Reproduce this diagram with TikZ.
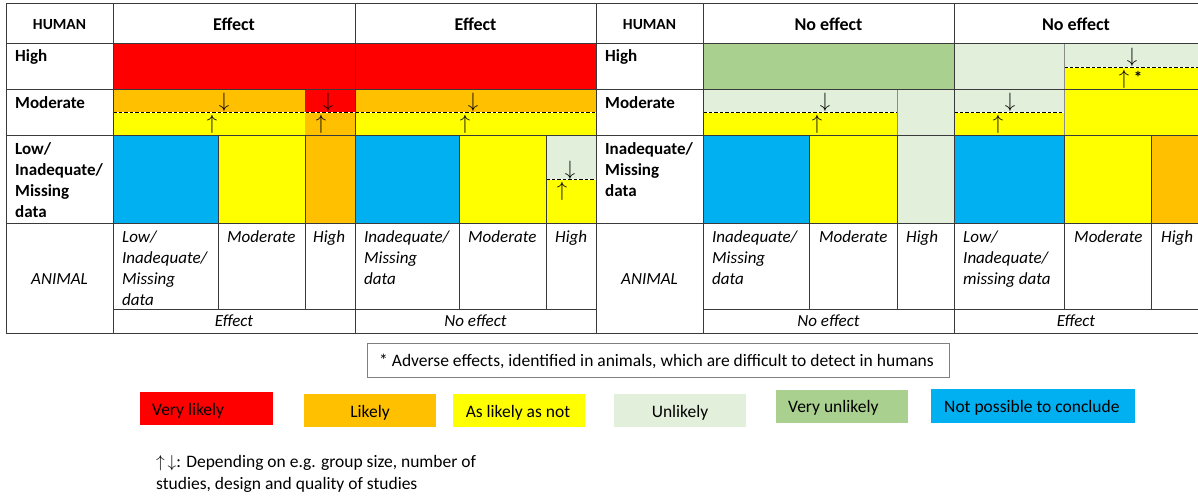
\documentclass[tikz,border=0pt]{standalone}
\usepackage{fontspec}
\setmainfont{Carlito}
\definecolor{cred}{HTML}{FF0000}
\definecolor{corange}{HTML}{FFC000}
\definecolor{cyellow}{HTML}{FFFF00}
\definecolor{clgreen}{HTML}{E2EFDA}
\definecolor{cgreen}{HTML}{A9D08E}
\definecolor{cblue}{HTML}{00B0F0}
\definecolor{gridc}{HTML}{3A3A3A}
\definecolor{notec}{HTML}{7F7F7F}
\tikzset{
  gridline/.style={draw=gridc, line width=1pt},
  softline/.style={draw=black!45, line width=0.8pt},
  dashline/.style={draw=black, line width=0.9pt, dash pattern=on 3.5pt off 2pt},
  hdr/.style={font=\fontsize{18}{21}\selectfont\bfseries, anchor=base, inner sep=0},
  hum/.style={font=\fontsize{15.5}{18}\selectfont\bfseries, anchor=base, inner sep=0},
  rlab/.style={font=\fontsize{17}{21}\selectfont\bfseries, anchor=base west, inner sep=0, align=left},
  alab/.style={font=\fontsize{17}{21}\selectfont\itshape, anchor=base west, inner sep=0, align=left},
  aeff/.style={font=\fontsize{17}{21}\selectfont\itshape, anchor=base, inner sep=0},
  arr/.style={font=\fontsize{20}{20}\selectfont, inner sep=0},
  legtxt/.style={font=\fontsize{17.5}{22}\selectfont, inner sep=0, anchor=base west},
}
\begin{document}
\begin{tikzpicture}[x=1pt,y=-1pt]
\useasboundingbox (0,0) rectangle (1198,495);
\fill[white] (0,0) rectangle (1198,495);
% ---------- block 1 ----------
\fill[cred] (113,44) rectangle (355,89);
\fill[corange] (113,89) rectangle (305,112);
\fill[cred] (305,89) rectangle (355,112);
\fill[cyellow] (113,112) rectangle (305,135);
\fill[corange] (305,112) rectangle (355,135);
\fill[cblue] (113,135) rectangle (218,223);
\fill[cyellow] (218,135) rectangle (305,223);
\fill[corange] (305,135) rectangle (355,223);
% ---------- block 2 ----------
\fill[cred] (355,44) rectangle (596,89);
\fill[corange] (355,89) rectangle (596,112);
\fill[cyellow] (355,112) rectangle (596,135);
\fill[cblue] (355,135) rectangle (459,223);
\fill[cyellow] (459,135) rectangle (546,223);
\fill[clgreen] (546,135) rectangle (596,179);
\fill[cyellow] (546,179) rectangle (596,223);
% ---------- block 3 ----------
\fill[cgreen] (703,44) rectangle (954,89);
\fill[clgreen] (703,89) rectangle (897,112);
\fill[cyellow] (703,112) rectangle (897,135);
\fill[clgreen] (897,89) rectangle (954,135);
\fill[cblue] (703,135) rectangle (809,223);
\fill[cyellow] (809,135) rectangle (897,223);
\fill[clgreen] (897,135) rectangle (954,223);
% ---------- block 4 ----------
\fill[clgreen] (954,44) rectangle (1064,89);
\fill[clgreen] (1064,44) rectangle (1198,67);
\fill[cyellow] (1064,67) rectangle (1198,89);
\fill[clgreen] (954,89) rectangle (1064,112);
\fill[cyellow] (954,112) rectangle (1064,135);
\fill[cyellow] (1064,89) rectangle (1198,135);
\fill[cblue] (954,135) rectangle (1064,223);
\fill[cyellow] (1064,135) rectangle (1151,223);
\fill[corange] (1151,135) rectangle (1198,223);
% ---------- dashed splits ----------
\foreach \a/\b/\c in {113/596/112, 703/897/112, 954/1064/112, 1064/1198/67, 546/596/179} {
  \draw[white, line width=0.9pt] (\a,\c) -- (\b,\c);
  \draw[dashline] (\a,\c) -- (\b,\c);
}
% ---------- soft lines between coloured cells ----------
\draw[softline] (1064,44) -- (1064,135);
\draw[softline] (897,89) -- (897,135);
% ---------- grid ----------
\foreach \yy in {4,44,89,135,223,333} \draw[gridline] (6,\yy) -- (1198,\yy);
\draw[gridline] (113,309) -- (596,309);
\draw[gridline] (703,309) -- (1198,309);
\foreach \xx in {6,113,355,596,703,954} \draw[gridline] (\xx,4) -- (\xx,333);
\foreach \xx in {218,305,459,546,809,897,1064,1151} \draw[gridline] (\xx,135) -- (\xx,309);
% ---------- headers ----------
\node[hum] (hum1) at (59.5,29.5) {HUMAN};
\node[hdr] (h1) at (234,30.5) {Effect};
\node[hdr] (h2) at (475.5,30.5) {Effect};
\node[hum] (hum2) at (649.5,29.5) {HUMAN};
\node[hdr] (h3) at (828.5,30.5) {No effect};
\node[hdr] (h4) at (1076,30.5) {No effect};
% ---------- row labels (base = last line) ----------
\node[rlab] (l1h) at (15,62) {High};
\node[rlab] (l1m) at (15,108) {Moderate};
\node[rlab] (l1l) at (15,217) {Low/\\Inadequate/\\Missing\\data};
\node[rlab] (l2h) at (605,62) {High};
\node[rlab] (l2m) at (605,108) {Moderate};
\node[rlab] (l2l) at (605,196) {Inadequate/\\Missing\\data};
% ---------- arrows ----------
\node[arr] (a1) at (224,102) {$\downarrow$};
\node[arr] (a2) at (212,124) {$\uparrow$};
\node[arr] (a3) at (328,102) {$\downarrow$};
\node[arr] (a4) at (321,124) {$\uparrow$};
\node[arr] (a5) at (473,102) {$\downarrow$};
\node[arr] (a6) at (465,124) {$\uparrow$};
\node[arr] (a7) at (570,170) {$\downarrow$};
\node[arr] (a8) at (562,191) {$\uparrow$};
\node[arr] (a9) at (825,102) {$\downarrow$};
\node[arr] (a10) at (817,124) {$\uparrow$};
\node[arr] (a11) at (1010,102) {$\downarrow$};
\node[arr] (a12) at (998,124) {$\uparrow$};
\node[arr] (a13) at (1132,57) {$\downarrow$};
\node[arr] (a14) at (1124,79) {$\uparrow$};
\node[font=\fontsize{17}{17}\selectfont\bfseries, inner sep=0, anchor=base] (ast) at (1138,83) {*};
% ---------- animal row ----------
\node[font=\fontsize{17}{21}\selectfont\itshape, inner sep=0] (an1) at (59.5,279) {ANIMAL};
\node[font=\fontsize{17}{21}\selectfont\itshape, inner sep=0] (an2) at (649.5,279) {ANIMAL};
\node[alab] (c11) at (122,305) {Low/\\Inadequate/\\Missing\\data};
\node[alab] (c12) at (227,242) {Moderate};
\node[alab] (c13) at (313,242) {High};
\node[alab] (c21) at (364,284) {Inadequate/\\Missing\\data};
\node[alab] (c22) at (468,242) {Moderate};
\node[alab] (c23) at (555,242) {High};
\node[alab] (c31) at (712,284) {Inadequate/\\Missing\\data};
\node[alab] (c32) at (819,242) {Moderate};
\node[alab] (c33) at (906,242) {High};
\node[alab] (c41) at (963,284) {Low/\\Inadequate/\\missing data};
\node[alab] (c42) at (1074,242) {Moderate};
\node[alab] (c43) at (1161,242) {High};
\node[aeff] (e1) at (234,326) {Effect};
\node[aeff] (e2) at (475.5,326) {No effect};
\node[aeff] (e3) at (828.5,326) {No effect};
\node[aeff] (e4) at (1076,326) {Effect};
% ---------- note ----------
\draw[notec, line width=1pt] (367,343) rectangle (949,377);
\node[legtxt] (note) at (379,366) {* Adverse effects, identified in animals, which are difficult to detect in humans};
% ---------- legend ----------
\fill[cred] (140,392) rectangle (273,425);
\node[legtxt] (lg1) at (152,415) {Very likely};
\fill[corange] (304,394) rectangle (436,427);
\node[legtxt, anchor=base] (lg2) at (370,417) {Likely};
\fill[cyellow] (453,394) rectangle (585,427);
\node[legtxt, anchor=base] (lg3) at (518,417) {As likely as not};
\fill[clgreen] (614,394) rectangle (746,427);
\node[legtxt, anchor=base] (lg4) at (680,417) {Unlikely};
\fill[cgreen] (776,390) rectangle (908,423);
\node[legtxt] (lg5) at (788,412) {Very unlikely};
\fill[cblue] (931,389) rectangle (1135,423);
\node[legtxt] (lg6) at (944,412) {Not possible to conclude};
% ---------- footnote (base = last line) ----------
\node[legtxt, align=left] (foot) at (156,489) {{\fontsize{19}{22}\selectfont$\uparrow\,\downarrow$}: Depending on e.g. group size, number of\\studies, design and quality of studies};
\end{tikzpicture}
\end{document}
